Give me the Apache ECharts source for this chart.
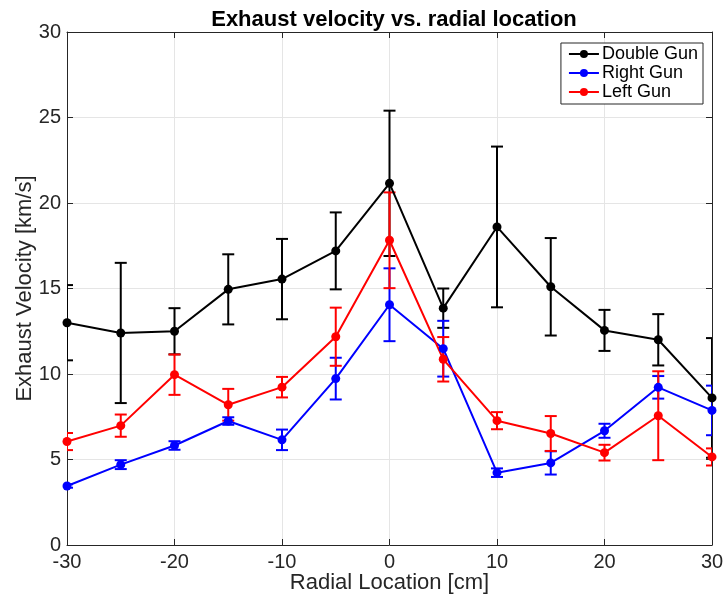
<!DOCTYPE html>
<html>
<head>
<meta charset="utf-8">
<script src="https://cdn.jsdelivr.net/npm/echarts@6/dist/echarts.min.js"></script>
<style>html,body{margin:0;padding:0;background:#fff}#c{width:723px;height:598px}</style>
</head>
<body>
<div id="c"></div>
<script>
var radial = [-30, -25, -20, -15, -10, -5, 0, 5, 10, 15, 20, 25, 30];
var doubleGun = [13.0, 12.4, 12.5, 14.95, 15.55, 17.2, 21.15, 13.85, 18.6, 15.1, 12.55, 12.0, 8.6];
var doubleErr = [2.2, 4.1, 1.35, 2.05, 2.35, 2.25, 4.25, 1.15, 4.7, 2.85, 1.2, 1.5, 3.5];
var rightGun = [3.45, 4.7, 5.82, 7.25, 6.15, 9.73, 14.05, 11.48, 4.23, 4.8, 6.68, 9.22, 7.87];
var rightErr = [0.1, 0.26, 0.25, 0.22, 0.6, 1.22, 2.13, 1.63, 0.25, 0.68, 0.41, 0.66, 1.45];
var leftGun = [6.05, 6.98, 9.96, 8.2, 9.23, 12.18, 17.82, 10.86, 7.27, 6.52, 5.4, 7.56, 5.15];
var leftErr = [0.5, 0.65, 1.18, 0.93, 0.6, 1.7, 2.8, 1.3, 0.5, 1.02, 0.46, 2.6, 0.5];
var seriesNames = ['Double Gun', 'Right Gun', 'Left Gun'];
var colors = ['#000000', '#0000ff', '#ff0000'];

function lineSeries(name, vals, color) {
  return {
    name: name, type: 'line',
    data: radial.map(function (x, i) { return [x, vals[i]]; }),
    symbol: 'circle', symbolSize: 9,
    itemStyle: { color: color },
    lineStyle: { color: color, width: 2 },
    emphasis: { disabled: true },
    animation: false
  };
}
function errSeries(vals, errs, color) {
  return {
    type: 'custom', clip: true, animation: false,
    data: radial.map(function (x, i) { return [x, vals[i] - errs[i], vals[i] + errs[i]]; }),
    encode: { x: 0, y: [1, 2] },
    renderItem: function (params, api) {
      var x = api.value(0);
      var lo = api.coord([x, api.value(1)]);
      var hi = api.coord([x, api.value(2)]);
      var w = 6;
      var st = { stroke: color, lineWidth: 2, fill: null };
      return {
        type: 'group',
        children: [
          { type: 'line', shape: { x1: lo[0], y1: lo[1], x2: hi[0], y2: hi[1] }, style: st },
          { type: 'line', shape: { x1: lo[0] - w, y1: lo[1], x2: lo[0] + w, y2: lo[1] }, style: st },
          { type: 'line', shape: { x1: hi[0] - w, y1: hi[1], x2: hi[0] + w, y2: hi[1] }, style: st }
        ]
      };
    }
  };
}

var axisColor = '#262626';
var font = 'Liberation Sans, Arial, sans-serif';
var chart = echarts.init(document.getElementById('c'));
chart.setOption({
  backgroundColor: '#fff',
  animation: false,
  title: {
    text: 'Exhaust velocity vs. radial location',
    left: 389, textAlign: 'center', top: 4,
    textStyle: { fontFamily: font, fontSize: 22, fontWeight: 'bold', color: '#000' }
  },
  grid: { left: 67, right: 11, top: 32, bottom: 53, containLabel: false, outerBoundsMode: 'none' },
  legend: {
    data: seriesNames, orient: 'vertical', right: 20, top: 43,
    itemWidth: 30, itemHeight: 10, itemGap: 1,
    padding: [2, 5, 3, 7],
    borderColor: axisColor, borderWidth: 1, backgroundColor: '#fff',
    textStyle: { fontFamily: font, fontSize: 18, color: '#000', padding: [0, 0, 0, -2] }
  },
  xAxis: [{
    type: 'value', min: -30, max: 30, interval: 10,
    name: 'Radial Location [cm]', nameLocation: 'middle', nameGap: 27, nameMoveOverlap: false,
    nameTextStyle: { fontFamily: font, fontSize: 22, color: axisColor },
    axisLine: { show: true, lineStyle: { color: axisColor, width: 1 } },
    axisTick: { show: true, inside: true, length: 6, lineStyle: { color: axisColor } },
    axisLabel: { fontFamily: font, fontSize: 20, color: axisColor, margin: 7 },
    splitLine: { show: true, lineStyle: { color: '#e5e5e5', width: 1 } }
  }, {
    type: 'value', position: 'top', min: -30, max: 30, interval: 10,
    axisLine: { show: true, onZero: false, lineStyle: { color: axisColor, width: 1 } },
    axisTick: { show: true, inside: true, length: 6, lineStyle: { color: axisColor } },
    axisLabel: { show: false }, splitLine: { show: false }
  }],
  yAxis: [{
    type: 'value', min: 0, max: 30, interval: 5,
    name: 'Exhaust Velocity [km/s]', nameLocation: 'middle', nameGap: 31, nameMoveOverlap: false,
    nameTextStyle: { fontFamily: font, fontSize: 22, color: axisColor },
    axisLine: { show: true, onZero: false, lineStyle: { color: axisColor, width: 1 } },
    axisTick: { show: true, inside: true, length: 6, lineStyle: { color: axisColor } },
    axisLabel: { fontFamily: font, fontSize: 20, color: axisColor, margin: 6 },
    splitLine: { show: true, lineStyle: { color: '#e5e5e5', width: 1 } }
  }, {
    type: 'value', position: 'right', min: 0, max: 30, interval: 5,
    axisLine: { show: true, onZero: false, lineStyle: { color: axisColor, width: 1 } },
    axisTick: { show: true, inside: true, length: 6, lineStyle: { color: axisColor } },
    axisLabel: { show: false }, splitLine: { show: false }
  }],
  series: [
    lineSeries(seriesNames[0], doubleGun, colors[0]),
    errSeries(doubleGun, doubleErr, colors[0]),
    lineSeries(seriesNames[1], rightGun, colors[1]),
    errSeries(rightGun, rightErr, colors[1]),
    lineSeries(seriesNames[2], leftGun, colors[2]),
    errSeries(leftGun, leftErr, colors[2])
  ]
});
</script>
</body>
</html>
